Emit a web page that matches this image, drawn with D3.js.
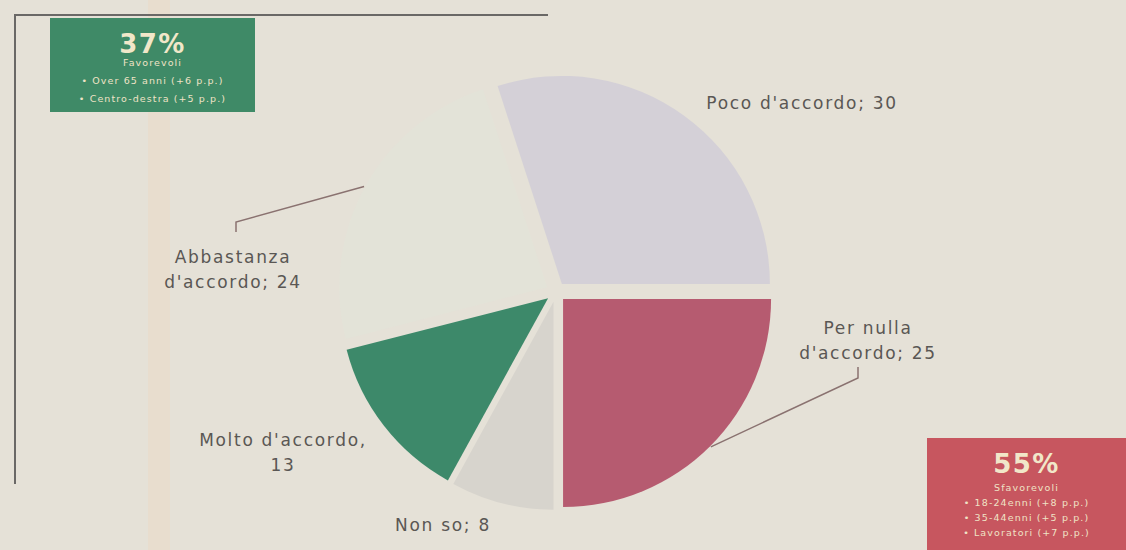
<!DOCTYPE html>
<html>
<head>
<meta charset="utf-8">
<script src="https://cdn.jsdelivr.net/npm/d3@7"></script>
<style>
    body { margin: 0; background: #e5e1d7; }
    svg { display: block; font-family: "DejaVu Sans", Verdana, sans-serif; }
    .slice-label { fill: #5a5754; font-size: 17px; letter-spacing: 1.7px; }
    .leader { stroke: #8a7270; stroke-width: 1.5; fill: none; }
    .frame { stroke: #6a6866; stroke-width: 2; fill: none; }
    .box-big { font-weight: bold; font-size: 26px; fill: #f1e7c9; letter-spacing: 1.5px; }
    .box-small { font-size: 9.5px; fill: #efe3c6; letter-spacing: 1.1px; }
</style>
</head>
<body>
<div id="chart"></div>
<script>
// slices, clockwise starting from "Poco d'accordo"
const categories = ["Poco d'accordo", "Per nulla d'accordo", "Non so", "Molto d'accordo", "Abbastanza d'accordo"];
const values = [30, 25, 8, 13, 24];
const labelLines = [
    ["Poco d'accordo; 30"],
    ["Per nulla", "d'accordo; 25"],
    ["Non so; 8"],
    ["Molto d'accordo,", "13"],
    ["Abbastanza", "d'accordo; 24"]
];
const sliceColors = ["#d4d0d7", "#b65b70", "#d7d4cd", "#3d896a", "#e3e3d8"];

// summary boxes
const greenBoxLines = ["37%", "Favorevoli", "• Over 65 anni (+6 p.p.)", "• Centro-destra (+5 p.p.)"];
const redBoxLines = ["55%", "Sfavorevoli", "• 18-24enni (+8 p.p.)", "• 35-44enni (+5 p.p.)", "• Lavoratori (+7 p.p.)"];

let width = 1126, height = 550;
let cx = 556, cy = 292, radius = 208, explode = 10;

let svg = d3.select("#chart").append("svg")
    .attr("width", width)
    .attr("height", height);

// paper fold shading
svg.append("rect")
    .attr("x", 148).attr("y", 0).attr("width", 22).attr("height", height)
    .attr("fill", "#e9dccb").attr("opacity", 0.7);

// frame lines (top + left)
svg.append("path")
    .attr("class", "frame")
    .attr("d", d3.line()([[15, 484], [15, 15], [548, 15]]));

// "Poco" ends at 3 o'clock, the rest follow clockwise
let start = Math.PI / 2 - values[0] / d3.sum(values) * 2 * Math.PI;
let pie = d3.pie()
    .sort(null)
    .startAngle(start)
    .endAngle(start + 2 * Math.PI)
    .value(d => d);

let arcs = pie(values);
let arc = d3.arc().innerRadius(0).outerRadius(radius);
let edgeArc = d3.arc().innerRadius(radius).outerRadius(radius);

function shift(d, r) {
    let a = (d.startAngle + d.endAngle) / 2;
    return [Math.sin(a) * r, -Math.cos(a) * r];
}

let g = svg.append("g").attr("transform", `translate(${cx},${cy})`);

g.selectAll(".slice")
    .data(arcs)
    .enter()
    .append("path")
    .attr("class", "slice")
    .attr("d", arc)
    .attr("fill", (d, i) => sliceColors[i])
    .attr("transform", d => `translate(${shift(d, explode)})`);

// label anchors relative to pie centre (layout only)
let labelPos = [[246, -183], [312, 42], [-113, 239], [-273, 154], [-323, -29]];
let lineH = 25;

let labels = g.selectAll(".lbl")
    .data(arcs)
    .enter()
    .append("text")
    .attr("class", "slice-label")
    .attr("text-anchor", "middle")
    .attr("transform", (d, i) => `translate(${labelPos[i]})`);

labels.selectAll("tspan")
    .data((d, i) => labelLines[i])
    .enter()
    .append("tspan")
    .attr("x", 0)
    .attr("y", (t, j) => j * lineH)
    .text(t => t);

// leader lines for Per nulla and Abbastanza: slice edge -> bend -> short tick
let leaders = [
    {i: 1, bend: [302, 86], tick: -11},
    {i: 4, bend: [-320, -70], tick: 10}
];
leaders.forEach(function(l) {
    let d = arcs[l.i];
    let e = edgeArc.centroid(d);
    let s = shift(d, explode + 1);
    g.append("path")
        .attr("class", "leader")
        .attr("d", d3.line()([[e[0] + s[0], e[1] + s[1]], l.bend, [l.bend[0], l.bend[1] + l.tick]]));
});

// summary boxes
function drawBox(x, y, w, h, fill, lines, firstY, step) {
    let b = svg.append("g").attr("transform", `translate(${x},${y})`);
    b.append("rect").attr("width", w).attr("height", h).attr("fill", fill);
    b.append("text").attr("class", "box-big")
        .attr("x", w / 2).attr("y", 35).attr("text-anchor", "middle")
        .text(lines[0]);
    b.selectAll(".small")
        .data(lines.slice(1))
        .enter()
        .append("text")
        .attr("class", "box-small")
        .attr("x", w / 2)
        .attr("y", (t, j) => firstY + j * step)
        .attr("text-anchor", "middle")
        .text(t => t);
}

drawBox(50, 18, 205, 94, "#3f8a67", greenBoxLines, 48, 18);
drawBox(927, 438, 199, 112, "#c7565f", redBoxLines, 53, 15);
</script>
</body>
</html>
